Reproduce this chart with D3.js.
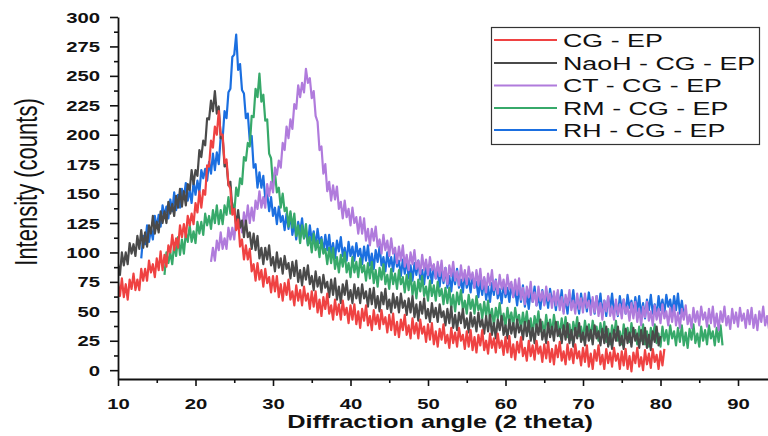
<!DOCTYPE html>
<html>
<head>
<meta charset="utf-8">
<script src="https://cdn.jsdelivr.net/npm/d3@7"></script>
<style>
  html, body { margin: 0; padding: 0; background: #fff; }
  svg { display: block; }
</style>
</head>
<body>
<svg id="chart" width="768" height="436"></svg>
<script>
// XRD scans: intensity (counts) sampled every 0.25 degree of 2-theta
const seriesNames = ["CG - EP", "NaoH - CG - EP", "CT - CG - EP", "RM - CG - EP", "RH - CG - EP"];
const seriesColors = ["#ef4242", "#4a4a4a", "#b07bdc", "#37a96a", "#1b6fe0"];
const scanStart = [10, 10, 22, 16, 13];
const scanStep = 0.25;

const cgEp = [75,63,78,62,73,60,77,69,82,68,77,68,86,76,86,76,93,83,90,79,
95,85,101,85,98,88,106,100,115,102,112,104,123,113,124,113,131,123,133,124,
142,134,152,138,153,149,174,173,195,189,207,200,220,200,200,176,179,158,154,132,
137,119,128,105,111,94,106,94,103,84,90,76,91,77,85,71,86,74,79,66,
80,67,80,62,73,59,74,64,77,60,67,55,72,59,68,55,71,59,65,52,
67,54,67,49,60,46,62,52,65,48,55,43,60,47,56,43,59,47,53,40,
55,43,56,39,50,36,52,42,55,38,46,34,51,39,47,35,51,39,45,32,
47,34,48,30,41,28,43,34,47,30,38,27,44,31,40,27,43,31,37,24,
39,26,40,22,33,20,35,26,39,23,30,19,36,23,32,20,36,25,30,18,
33,20,34,17,28,15,30,21,34,17,25,14,31,19,27,15,31,19,25,13,
28,15,29,11,22,9,24,15,28,12,19,8,25,12,21,9,25,14,20,7,
22,10,24,7,18,5,21,11,24,8,16,5,22,9,18,6,22,10,16,4,
19,7,21,3,14,1,17,8,21,5,13,1,18,6,15,3,19,8,14,1,
16,4,18,1,12,-1,15,6,19,3,11,0,17,5,14,2,18,7,13,1,
16,4,18];

const naohCgEp = [90,81,100,89,100,90,108,99,107,97,114,103,119,104,117,105,123,116,131,116,
126,117,135,125,135,125,143,133,141,131,148,138,154,139,152,140,158,153,170,158,
170,165,187,181,195,191,214,213,229,220,237,218,224,197,198,173,176,157,160,137,
137,123,136,121,127,113,127,113,117,103,116,102,114,95,104,90,104,94,106,89,
96,84,100,87,95,82,97,86,91,78,92,80,93,75,85,72,87,77,89,73,
80,68,84,71,79,66,81,70,75,62,77,64,78,60,71,57,73,64,76,60,
68,57,73,61,70,57,73,61,67,54,69,56,70,53,63,50,66,56,69,52,
60,49,65,53,62,49,65,53,59,47,61,49,63,45,56,42,58,48,61,44,
52,41,57,45,53,41,56,45,50,38,52,40,54,36,47,34,49,40,52,36,
44,32,49,37,45,33,49,37,43,31,46,33,47,30,40,27,43,34,46,30,
38,27,43,31,40,28,43,32,38,26,41,29,42,25,36,23,39,30,43,26,
34,23,40,28,37,25,41,29,35,23,38,26,40,23,34,20,36,27,40,24,
32,21,37,25,34,22,38,27,33,21,35,23,37,20,31,18,34,25,37,21,
29,18,35,23,32,20,36,25,31,19,34,22,36,19,30,17,33,24,37,21,
29];

const ctCgEp = [92,104,93,110,102,117,103,112,103,121,111,121,111,129,120,127,117,134,124,140,
125,138,127,144,137,152,138,147,138,158,148,160,151,172,166,178,172,193,187,207,
197,213,205,226,222,242,232,244,236,256,244,248,231,237,216,211,187,190,167,175,
152,160,144,157,145,156,137,143,129,144,130,137,123,138,125,130,116,130,116,129,
110,120,106,120,110,122,105,111,99,115,102,110,97,112,99,104,91,105,93,106,
88,98,85,100,90,102,86,93,82,98,85,94,81,96,85,90,78,92,80,93,
76,87,73,89,80,92,76,84,72,89,76,85,73,88,77,83,70,85,72,86,
69,79,66,82,72,85,68,76,65,81,69,77,65,81,69,75,62,77,64,78,
60,70,56,71,62,75,58,66,55,71,59,67,55,71,59,65,53,67,55,68,
51,62,48,64,55,68,51,59,48,65,52,61,49,65,53,59,47,62,49,63,
46,57,43,59,50,63,46,54,43,60,47,56,44,60,48,54,42,57,44,58,
41,52,38,54,45,58,42,50,38,55,43,52,40,56,44,50,38,53,41,55,
38,49,36,52,43,55,39,47,36,53,41,50,38,54,43,49,37,52,40,54,
37,48,34,50,41,54,38,46,35,52,40,49,37,53,42,48,36,51,39,53,
36,47,34,50,41,54,38,46,
35];

const rmCgEp = [81,100,91,100,90,107,97,113,98,111,99,117,109,123,109,118,108,126,116,126,
115,133,123,131,120,136,125,140,124,136,124,140,132,147,133,142,133,155,148,163,
158,181,178,193,190,216,215,239,232,252,228,234,212,213,184,180,156,168,151,155,
138,150,135,138,122,135,121,133,114,123,108,123,112,124,106,113,100,116,102,110,
96,111,99,103,90,104,91,104,86,96,83,98,88,100,83,91,79,96,83,92,
79,95,83,89,76,91,78,92,74,85,71,87,77,90,73,81,69,86,73,82,
69,85,73,79,66,81,68,82,64,75,61,77,67,80,63,71,59,76,63,72,
59,75,63,69,56,70,57,70,53,64,50,66,56,68,51,59,48,64,52,60,
48,63,51,56,44,58,46,59,42,52,38,53,44,57,40,48,37,53,41,49,
37,53,41,47,35,49,37,50,33,44,30,46,37,50,33,41,30,47,34,43,
31,47,35,41,29,44,31,45,28,39,26,41,32,45,29,37,26,42,30,39,
27,42,31,37,25,40,28,41,24,35,22,38,29,42,25,33,22,39,27,36,
24,40,29,34,22,37,25,39,22,33,20,36,26,39,23,31,20,37,25,34,
22,38,27,33,21,36,24,38,21,32,19,35,26,39,23,31,20,37,25,34,
22,38,27,33,21,36,24,38,
21];

const rhCgEp = [95,114,107,123,109,120,111,131,121,132,122,140,131,139,129,145,135,151,136,149,
138,154,146,159,144,153,142,160,149,161,151,170,163,171,161,177,167,184,170,185,
175,198,197,220,214,236,239,266,268,285,255,260,238,235,214,218,195,199,172,175,
155,168,155,165,146,150,135,147,131,138,124,139,126,131,119,133,120,133,115,125,
111,126,117,129,112,119,107,123,110,118,105,120,108,113,100,115,102,115,98,108,
95,110,101,113,97,104,93,109,97,105,93,108,97,103,90,105,93,106,89,99,
86,102,92,105,89,96,84,100,88,96,84,99,88,93,80,94,82,95,78,89,
76,91,81,93,77,85,73,90,78,86,74,89,78,84,71,86,74,87,70,80,
67,83,73,86,70,77,66,82,70,78,66,81,70,75,62,76,64,78,60,71,
58,74,64,77,61,69,57,74,62,70,58,73,62,68,55,70,58,72,54,65,
52,68,58,71,55,63,52,68,56,65,53,69,58,64,51,66,54,68,50,61,
48,64,55,68,52,59,48,65,53,62,50,66,54,60,48,63,51,65,48,59,
46,62,52,65,49,57,46,63,51,60,48,64,53,59,47,62,50,63,46,57,
44,60,51,64,48,56,46,63,51,60,48,64,54,60,48,63,51,65,48,59,
46];

const seriesValues = [cgEp, naohCgEp, ctCgEp, rmCgEp, rhCgEp];

const xTickValues = [10, 20, 30, 40, 50, 60, 70, 80, 90];
const xMinorTicks = [15, 25, 35, 45, 55, 65, 75, 85];
const yTickValues = [0, 25, 50, 75, 100, 125, 150, 175, 200, 225, 250, 275, 300];
const yMinorTicks = [12.5, 37.5, 62.5, 87.5, 112.5, 137.5, 162.5, 187.5, 212.5, 237.5, 262.5, 287.5];

const xTitle = "Diffraction angle (2 theta)";
const yTitle = "Intensity (counts)";

// ---------------------------------------------------------------
const FONT = "'Liberation Sans', Arial, Helvetica, sans-serif";
const STRETCH = 1.45;              // typeface is set wide, as in the figure

const svg = d3.select("#chart");
const plotLeft = 118, plotRight = 768, plotTop = 17, plotBottom = 379;

const x = d3.scaleLinear().domain([10, 93.87]).range([plotLeft, plotRight]);
const y = d3.scaleLinear().domain([-7.5, 300]).range([plotBottom, plotTop]);

svg.append("defs").append("clipPath").attr("id", "plotArea")
  .append("rect")
  .attr("x", plotLeft).attr("y", 0)
  .attr("width", plotRight - plotLeft).attr("height", plotBottom);

// Curves: RH drawn first, CG - EP last (on top)
const line = d3.line().x(d => x(d[0])).y(d => y(d[1]));
const curves = svg.append("g").attr("clip-path", "url(#plotArea)");
[4, 3, 2, 1, 0].forEach(k => {
  const pts = seriesValues[k].map((v, i) => [scanStart[k] + i * scanStep, v]);
  curves.append("path")
    .datum(pts)
    .attr("fill", "none")
    .attr("stroke", seriesColors[k])
    .attr("stroke-width", 2.2)
    .attr("stroke-linejoin", "round")
    .attr("d", line);
});

// Axes
function styleAxis(g) {
  g.selectAll(".domain").attr("stroke", "#111").attr("stroke-width", 1.8);
  g.selectAll(".tick line").attr("stroke", "#111").attr("stroke-width", 1.6);
}

const gYMinor = svg.append("g").attr("transform", `translate(${plotLeft},0)`)
  .call(d3.axisLeft(y).tickValues(yMinorTicks).tickSize(4).tickFormat(""));
gYMinor.select(".domain").remove();
styleAxis(gYMinor);

const gY = svg.append("g").attr("transform", `translate(${plotLeft},0)`)
  .call(d3.axisLeft(y).tickValues(yTickValues).tickSize(8).tickSizeOuter(0));
styleAxis(gY);
gY.selectAll(".tick text")
  .attr("x", 0).attr("dy", "0.36em")
  .attr("transform", `translate(-18,0) scale(${STRETCH},1)`)
  .attr("fill", "#111")
  .style("font-family", FONT).style("font-size", "14px").style("font-weight", "bold");

const gXMinor = svg.append("g").attr("transform", `translate(0,${plotBottom})`)
  .call(d3.axisBottom(x).tickValues(xMinorTicks).tickSize(4).tickFormat(""));
gXMinor.select(".domain").remove();
styleAxis(gXMinor);

const gX = svg.append("g").attr("transform", `translate(0,${plotBottom})`)
  .call(d3.axisBottom(x).tickValues(xTickValues).tickSize(7).tickSizeOuter(0));
styleAxis(gX);
gX.selectAll(".tick text")
  .attr("y", 0).attr("dy", null)
  .attr("transform", `translate(0,29.5) scale(${STRETCH},1)`)
  .attr("fill", "#111")
  .style("font-family", FONT).style("font-size", "14px").style("font-weight", "bold");

// Axis titles
svg.append("text")
  .attr("transform", `translate(440,428) scale(${STRETCH},1)`)
  .attr("text-anchor", "middle")
  .attr("fill", "#111")
  .style("font-family", FONT).style("font-size", "17.5px").style("font-weight", "bold")
  .text(xTitle);

svg.append("text")
  .attr("transform", `translate(37,182) scale(${STRETCH},1) rotate(-90)`)
  .attr("text-anchor", "middle")
  .attr("fill", "#111")
  .style("font-family", FONT).style("font-size", "22px")
  .text(yTitle);

// Legend
const legend = svg.append("g");
legend.append("rect")
  .attr("x", 491.5).attr("y", 27.5).attr("width", 268).attr("height", 117)
  .attr("fill", "#fff").attr("stroke", "#333").attr("stroke-width", 1.2);
const legendRows = [40, 63, 85.5, 108, 130];
seriesNames.forEach((name, k) => {
  legend.append("line")
    .attr("x1", 494).attr("x2", 557)
    .attr("y1", legendRows[k]).attr("y2", legendRows[k])
    .attr("stroke", seriesColors[k]).attr("stroke-width", 2);
  legend.append("text")
    .attr("transform", `translate(563,${legendRows[k]}) scale(${STRETCH},1)`)
    .attr("dy", "0.36em")
    .attr("fill", "#111")
    .style("font-family", FONT).style("font-size", "18.5px")
    .text(name);
});
</script>
</body>
</html>
